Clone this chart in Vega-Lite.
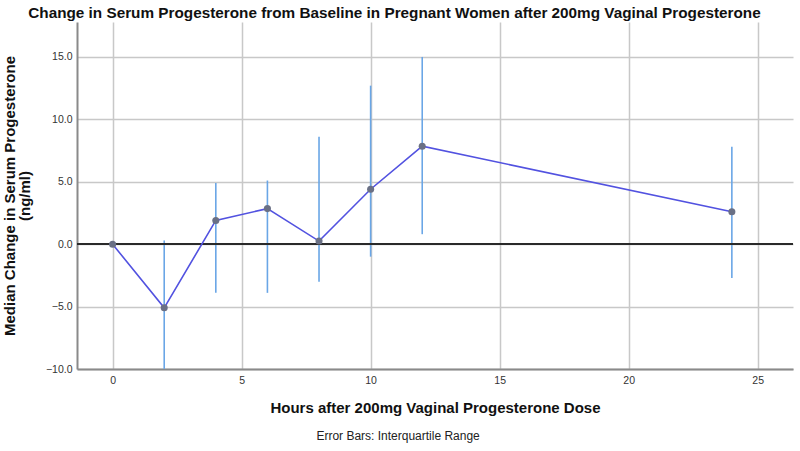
{
  "$schema": "https://vega.github.io/schema/vega-lite/v6.json",
  "width": 716,
  "height": 347,
  "autosize": {"type": "none"},
  "padding": {"left": 77, "top": 22, "right": 7, "bottom": 82},
  "background": "white",
  "title": {"text": "Error Bars: Interquartile Range", "orient": "bottom", "anchor": "middle", "frame": "bounds", "font": "Liberation Sans", "fontSize": 12, "fontWeight": "normal", "color": "#222", "offset": 15},
  "data": {"values": [
    {"hour": 0, "median": 0, "q1": null, "q3": null},
    {"hour": 2, "median": -5.1, "q1": -10, "q3": 0.3},
    {"hour": 4, "median": 1.9, "q1": -3.9, "q3": 4.9},
    {"hour": 6, "median": 2.85, "q1": -3.9, "q3": 5.1},
    {"hour": 8, "median": 0.25, "q1": -3.0, "q3": 8.6},
    {"hour": 10, "median": 4.4, "q1": -1.0, "q3": 12.7},
    {"hour": 12, "median": 7.85, "q1": 0.8, "q3": 15.0},
    {"hour": 24, "median": 2.6, "q1": -2.7, "q3": 7.8}
  ]},
  "config": {
    "view": {"stroke": null},
    "axis": {"gridColor": "#c8c8c8", "gridWidth": 1.5, "domainColor": "#8a8a8a", "domainWidth": 2, "ticks": false, "labelFont": "Liberation Sans", "labelFontSize": 10.5, "labelColor": "#333", "titleFont": "Liberation Sans", "titleFontSize": 15, "titleFontWeight": "bold", "titleColor": "#111"}
  },
  "resolve": {"axis": {"x": "independent"}},
  "layer": [
    {
      "mark": {"type": "rule", "color": "#6aa6e6", "strokeWidth": 1.6, "clip": true},
      "encoding": {
        "x": {"field": "hour", "type": "quantitative", "scale": {"domain": [-1.38, 26.37], "nice": false, "zero": false},
          "axis": {"orient": "bottom", "values": [0, 5, 10, 15, 20, 25], "title": "Hours after 200mg Vaginal Progesterone Dose", "labelPadding": 6, "titlePadding": 15}},
        "y": {"field": "q1", "type": "quantitative", "scale": {"domain": [-10, 17.8], "nice": false, "zero": false},
          "axis": {"values": [-10, -5, 0, 5, 10, 15], "format": ".1f", "title": ["Median Change in Serum Progesterone", "(ng/ml)"], "titlePadding": 13, "labelPadding": 5, "titleLineHeight": 15}},
        "y2": {"field": "q3"}
      }
    },
    {
      "mark": {"type": "rule", "color": "#2a2a2a", "strokeWidth": 1.5},
      "encoding": {"y": {"datum": 0}}
    },
    {
      "mark": {"type": "line", "color": "#5252e0", "strokeWidth": 1.6},
      "encoding": {
        "x": {"field": "hour", "type": "quantitative",
          "axis": {"orient": "top", "title": "Change in Serum Progesterone from Baseline in Pregnant Women after 200mg Vaginal Progesterone", "labels": false, "domain": false, "grid": false, "titleFontSize": 15.3, "titleX": 317, "titleY": -5, "titleBaseline": "alphabetic"}},
        "y": {"field": "median", "type": "quantitative"}
      }
    },
    {
      "mark": {"type": "point", "filled": true, "color": "#6a7085", "size": 50, "opacity": 1},
      "encoding": {
        "x": {"field": "hour", "type": "quantitative", "axis": null},
        "y": {"field": "median", "type": "quantitative"}
      }
    }
  ]
}
